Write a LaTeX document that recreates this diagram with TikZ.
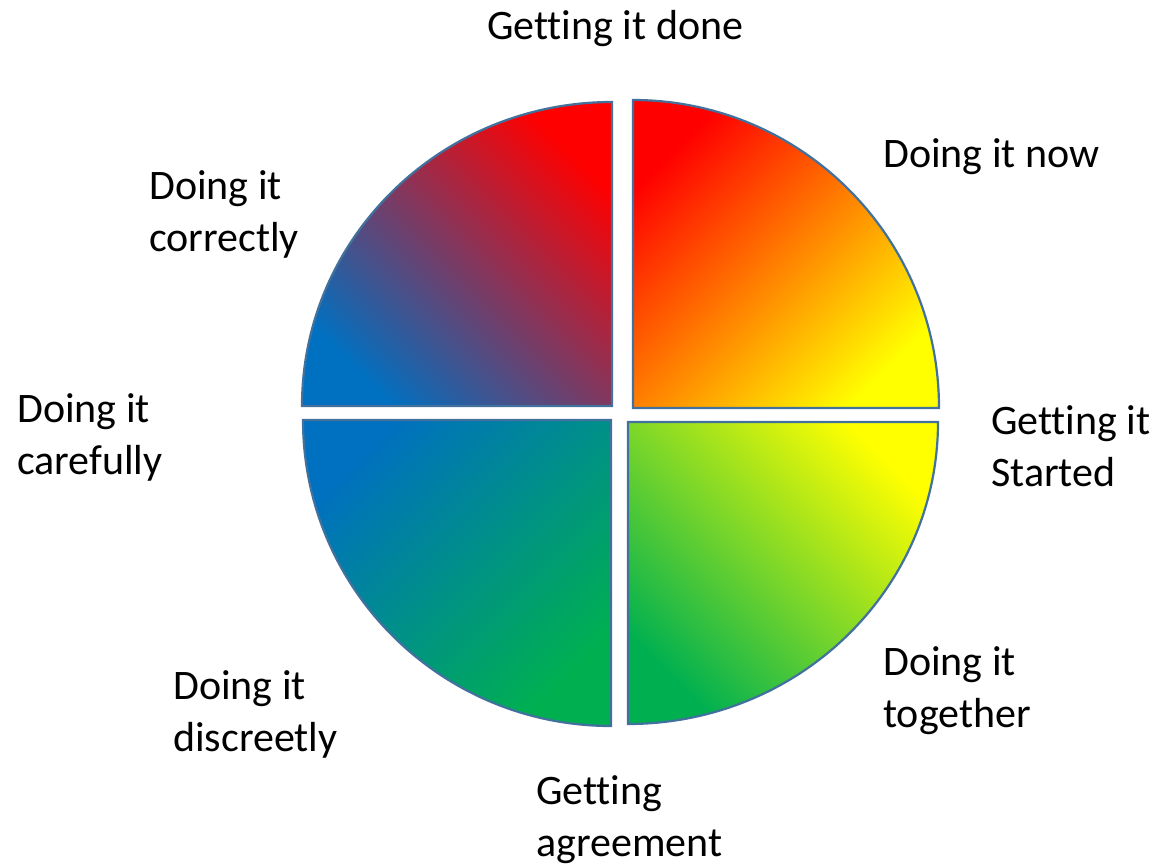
\documentclass[tikz,border=0pt]{standalone}
\usepackage{fontspec}
\setmainfont{Carlito}[Ligatures={NoCommon}]
\definecolor{qborder}{HTML}{41719C}
\definecolor{qred}{HTML}{FF0000}
\definecolor{qblue}{HTML}{0070C0}
\definecolor{qyellow}{HTML}{FFFF00}
\definecolor{qgreen}{HTML}{00B050}
\begin{document}
\begin{tikzpicture}[x=1pt,y=-1pt,
  lbl/.style={anchor=base west, inner sep=0pt, align=left, font=\fontsize{42}{52}\selectfont},
  quad/.style={draw=qborder, line width=2.2pt}]
\path[use as bounding box] (0,0) rectangle (1159,867);
% quadrants
\path[quad, top color=qred, bottom color=qblue, shading angle=-45]
  (612,406) -- (302,406) arc[start angle=180, end angle=270, x radius=310, y radius=304] -- cycle;
\path[quad, top color=qred, bottom color=qyellow, shading angle=45]
  (633,408) -- (633,100) arc[start angle=270, end angle=360, x radius=306, y radius=308] -- cycle;
\path[quad, top color=qyellow, bottom color=qgreen, shading angle=-45]
  (628,422) -- (938,422) arc[start angle=0, end angle=90, x radius=310, y radius=302] -- cycle;
\path[quad, top color=qblue, bottom color=qgreen, shading angle=45]
  (611,420) -- (611,726) arc[start angle=90, end angle=180, x radius=308, y radius=306] -- cycle;
% labels
\node[lbl] (done) at (487,40) {Getting it done};
\node[lbl] (now) at (883,167) {Doing it now};
\node[lbl] (correctly) at (149,251) {Doing it\\correctly};
\node[lbl] (carefully) at (17,474) {Doing it\\carefully};
\node[lbl] (started) at (991,486) {Getting it\\Started};
\node[lbl] (together) at (883,727) {Doing it\\together};
\node[lbl] (discreetly) at (173,751) {Doing it\\discreetly};
\node[lbl] (agreement) at (536,856) {Getting\\agreement};
\end{tikzpicture}
\end{document}
